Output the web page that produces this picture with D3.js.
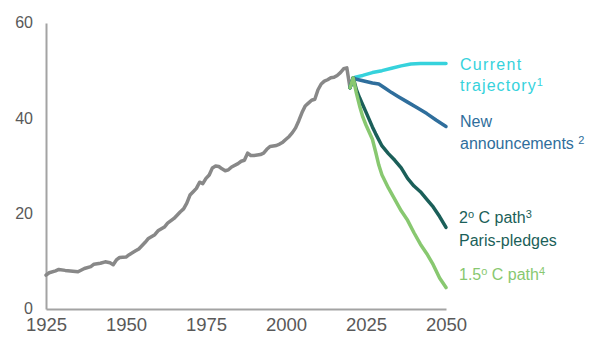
<!DOCTYPE html>
<html>
<head>
<meta charset="utf-8">
<script src="https://cdn.jsdelivr.net/npm/d3@7"></script>
<style>
  body { margin: 0; background: #fff; }
  svg { display: block; }
</style>
</head>
<body>
<div id="chart"></div>
<script>
// historical emissions, [year, value]
const history = [
  [1925, 7.1], [1926, 7.6], [1928, 8.0], [1929, 8.3], [1931, 8.1], [1935, 7.8],
  [1937, 8.5], [1939, 8.9], [1940, 9.4], [1942, 9.6], [1943.5, 9.9], [1945, 9.7],
  [1946, 9.3], [1947, 10.3], [1948, 10.8], [1950, 10.9], [1951, 11.4], [1953, 12.2],
  [1954, 12.6], [1956, 14.0], [1957, 14.8], [1959, 15.6], [1960, 16.4], [1962, 17.2],
  [1963, 18.0], [1965, 19.0], [1967, 20.4], [1968, 21.0], [1969, 22.2], [1970, 23.9],
  [1971, 24.6], [1972, 25.3], [1973, 26.6], [1974, 26.3], [1975, 27.4], [1976, 28.1],
  [1977, 29.6], [1978, 30.0], [1979, 29.9], [1980, 29.4], [1981, 29.0], [1982, 29.2],
  [1983, 29.8], [1985, 30.5], [1986, 31.0], [1987, 31.2], [1988, 32.7], [1989, 32.2],
  [1990, 32.2], [1992, 32.4], [1993, 32.7], [1994, 33.5], [1995, 34.1], [1996, 34.2],
  [1997, 34.3], [1998, 34.6], [1999, 35.0], [2000, 35.6], [2001, 36.2], [2002, 37.0],
  [2003, 38.0], [2004, 39.5], [2005, 41.2], [2006, 42.6], [2007, 43.2], [2008, 43.8],
  [2009, 44.0], [2010, 46.0], [2011, 47.2], [2012, 47.8], [2013, 48.1], [2014, 48.5],
  [2015, 48.6], [2016, 49.0], [2017, 49.6], [2018, 50.4], [2019, 50.6], [2020, 46.4]
]

const currentTrajectory = [
  [2020, 46.4], [2021, 48.5], [2022, 48.7], [2024, 49.0], [2027, 49.6], [2030, 50.0],
  [2033, 50.5], [2036, 51.0], [2039, 51.4], [2042, 51.5], [2050, 51.5]
]
const newAnnouncements = [
  [2020, 46.4], [2021, 48.5], [2022, 48.2], [2024, 47.9], [2027, 47.4], [2029, 47.2],
  [2031, 46.3], [2033, 45.4], [2035, 44.6], [2038, 43.4], [2041, 42.2], [2044, 41.0],
  [2047, 39.6], [2050, 38.3]
]
const twoDegree = [
  [2020, 46.4], [2021, 48.5], [2022, 46.0], [2023, 44.3], [2025, 41.3], [2027, 38.2],
  [2028, 36.8], [2030, 34.2], [2032, 32.6], [2034, 31.2], [2036, 29.6], [2038, 27.4],
  [2040, 25.8], [2042, 24.6], [2044, 23.0], [2046, 21.4], [2048, 19.4], [2050, 17.1]
]
const onePointFive = [
  [2020, 46.4], [2021, 48.5], [2022, 45.3], [2023, 42.6], [2024, 40.3], [2025, 38.6],
  [2027, 35.6], [2028, 33.0], [2029, 30.2], [2030, 28.1], [2032, 25.4], [2034, 23.0],
  [2036, 20.6], [2038, 18.6], [2040, 16.0], [2042, 13.6], [2044, 11.6], [2046, 9.3],
  [2048, 6.5], [2050, 4.5]
]

const xTicks = [1925, 1950, 1975, 2000, 2025, 2050]
const yTicks = [0, 20, 40, 60]

const colors = {
  history: '#888888',
  current: '#36d2dc',
  announce: '#2f6e9c',
  two: '#1b5f59',
  onefive: '#88c870'
}

const width = 605
const height = 339
const margin = { top: 23, right: 159, bottom: 30, left: 46 }

const svg = d3.select('#chart')
  .append('svg')
  .attr('width', width)
  .attr('height', height)

const xScale = d3.scaleLinear()
  .domain([1925, 2050])
  .range([margin.left, width - margin.right])

const yScale = d3.scaleLinear()
  .domain([0, 60])
  .range([height - margin.bottom, margin.top])

// axes
const yAxis = svg.append('g')
  .attr('transform', `translate(${margin.left},0)`)
  .call(d3.axisLeft(yScale).tickValues(yTicks).tickSize(0).tickPadding(13))
yAxis.select('.domain').attr('stroke', '#a3a3a3').attr('stroke-width', 2)
yAxis.selectAll('text')
  .attr('fill', '#595959')
  .attr('font-family', 'Liberation Sans, Arial, sans-serif')
  .attr('font-size', 16)
  .attr('dy', '0.3em')

const xAxis = svg.append('g')
  .attr('transform', `translate(0,${height - margin.bottom})`)
  .call(d3.axisBottom(xScale).tickValues(xTicks).tickFormat(d3.format('d')).tickSize(0).tickPadding(9))
xAxis.select('.domain').attr('stroke', '#a3a3a3').attr('stroke-width', 2)
xAxis.selectAll('text')
  .attr('fill', '#595959')
  .attr('font-family', 'Liberation Sans Narrow, Arial Narrow, sans-serif')
  .attr('font-size', 18.5)

const line = d3.line()
  .x(d => xScale(d[0]))
  .y(d => yScale(d[1]))

const series = [
  [history, colors.history],
  [currentTrajectory, colors.current],
  [newAnnouncements, colors.announce],
  [twoDegree, colors.two],
  [onePointFive, colors.onefive]
]

series.forEach(([data, color]) => {
  svg.append('path')
    .datum(data)
    .attr('d', line)
    .attr('fill', 'none')
    .attr('stroke', color)
    .attr('stroke-width', 3.5)
    .attr('stroke-linejoin', 'round')
    .attr('stroke-linecap', 'round')
})

// labels on the right
const labels = svg.append('g')
  .attr('font-family', 'Liberation Sans, Arial, sans-serif')
  .attr('font-size', 16)

function addLabel(x, y, color, parts, spacing) {
  const t = labels.append('text')
    .attr('x', x)
    .attr('y', y)
    .attr('fill', color)
  if (spacing) t.attr('letter-spacing', spacing)
  parts.forEach(p => {
    const s = t.append('tspan').text(p.text)
    if (p.sup) {
      s.attr('font-size', 11).attr('baseline-shift', '45%').attr('letter-spacing', 0)
    }
  })
}

addLabel(460, 70, colors.current, [{ text: 'Current' }], 1.3)
addLabel(460, 91, colors.current, [{ text: 'trajectory' }, { text: '1', sup: true }], 1.1)
addLabel(460, 127, colors.announce, [{ text: 'New' }])
addLabel(460, 149, colors.announce, [{ text: 'announcements ' }, { text: '2', sup: true }])
addLabel(459, 223, colors.two, [{ text: '2' }, { text: 'o', sup: true }, { text: ' C path' }, { text: '3', sup: true }])
addLabel(459, 246, colors.two, [{ text: 'Paris-pledges' }])
addLabel(459, 280, colors.onefive, [{ text: '1.5' }, { text: 'o', sup: true }, { text: ' C path' }, { text: '4', sup: true }])
</script>
</body>
</html>
